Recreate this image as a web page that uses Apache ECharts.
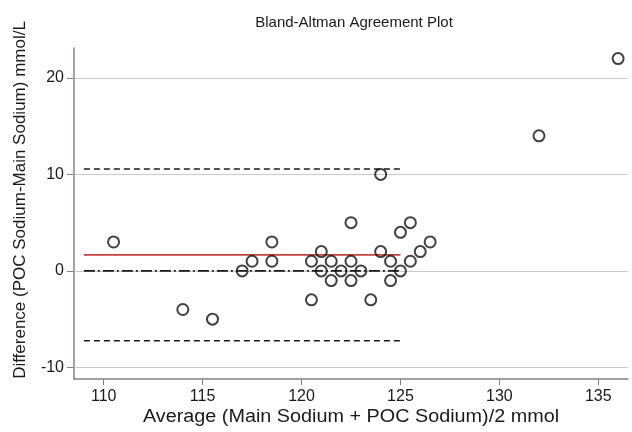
<!DOCTYPE html>
<html><head><meta charset="utf-8">
<script src="https://cdn.jsdelivr.net/npm/echarts@6/dist/echarts.min.js"></script>
<style>html,body{margin:0;padding:0;background:#fff}#c{width:632px;height:432px}</style>
</head><body><div id="c"></div>
<script>
// Data
const avgValues  = [110.5, 114, 115.5, 117, 117.5, 118.5, 118.5, 120.5, 120.5, 121, 121, 121.5, 121.5, 122, 122.5, 122.5, 122.5, 123, 123.5, 124, 124, 124.5, 124.5, 125, 125, 125.5, 125.5, 126, 126.5, 132, 136];
const diffValues = [3, -4, -5, 0, 1, 3, 1, 1, -3, 2, 0, 1, -1, 0, 5, 1, -1, 0, -3, 10, 2, 1, -1, 4, 0, 5, 1, 2, 3, 14, 22];
const xTicks = [110, 115, 120, 125, 130, 135];
const yTicks = [-10, 0, 10, 20];
const meanDiff = 1.66;
const upperLoA = 10.55;
const lowerLoA = -7.23;
const zeroRef = 0;
const refLineRange = [109, 125];

const FONT = "'Liberation Sans', Arial, sans-serif";
const points = avgValues.map((v, i) => [v, diffValues[i]]);
const seg = (y) => [[refLineRange[0], y], [refLineRange[1], y]];

const chart = echarts.init(document.getElementById('c'), null, {renderer: 'canvas'});
chart.setOption({
  animation: false,
  backgroundColor: '#ffffff',
  title: {
    text: 'Bland-Altman Agreement Plot',
    left: 349, top: 10, textAlign: 'center',
    textStyle: {fontFamily: FONT, fontSize: 15, fontWeight: 'normal', color: '#1a1a1a'}
  },
  graphic: [{
    type: 'text', x: 20, y: 200, rotation: Math.PI / 2,
    style: {text: 'Difference (POC Sodium-Main Sodium) mmol/L', fontFamily: FONT, fontSize: 17,
            fill: '#1a1a1a', textAlign: 'center', textVerticalAlign: 'middle'}
  }, {
    type: 'text', x: 351, y: 417, scaleX: 1.1,
    style: {text: 'Average (Main Sodium + POC Sodium)/2 mmol', fontFamily: FONT, fontSize: 18,
            fill: '#1a1a1a', textAlign: 'center', textVerticalAlign: 'middle'}
  }],
  grid: {left: 74, right: 4, top: 48, bottom: 53, containLabel: false},
  xAxis: {
    type: 'value', min: 108.5, max: 136.5,
    axisLine: {show: true, onZero: false, lineStyle: {color: '#8a7e7f', width: 1.5}},
    axisTick: {show: true, customValues: xTicks, length: 6, lineStyle: {color: '#8a7e7f', width: 1}},
    axisLabel: {customValues: xTicks, margin: 10, fontFamily: FONT, fontSize: 16, color: '#1a1a1a'},
    splitLine: {show: false}
  },
  yAxis: {
    type: 'value', min: -11.2, max: 23.1,
    axisLine: {show: true, onZero: false, lineStyle: {color: '#8a7e7f', width: 1.5}},
    axisTick: {show: true, customValues: yTicks, length: 7, lineStyle: {color: '#8a7e7f', width: 1}},
    axisLabel: {customValues: yTicks, margin: 10, fontFamily: FONT, fontSize: 16, color: '#1a1a1a'},
    splitLine: {show: false}
  },
  series: [
    {
      type: 'line', data: [], silent: true, z: 1,
      markLine: {
        silent: true, symbol: 'none', label: {show: false}, z: 1,
        lineStyle: {color: '#c8c8c8', width: 1, type: 'solid'},
        data: yTicks.map(v => ({yAxis: v}))
      }
    },
    {type: 'line', data: seg(upperLoA), showSymbol: false, silent: true, z: 2,
     lineStyle: {color: '#1a1a1a', width: 1.5, type: [6, 4]}},
    {type: 'line', data: seg(lowerLoA), showSymbol: false, silent: true, z: 2,
     lineStyle: {color: '#1a1a1a', width: 1.5, type: [6, 4]}},
    {type: 'line', data: seg(zeroRef), showSymbol: false, silent: true, z: 3,
     lineStyle: {color: '#1a1a1a', width: 1.6, type: [11, 3, 2, 3]}},
    {type: 'line', data: seg(meanDiff), showSymbol: false, silent: true, z: 3,
     lineStyle: {color: '#c4423c', width: 1.8, type: 'solid'}},
    {
      type: 'scatter', data: points, z: 6,
      symbol: 'circle', symbolSize: 11,
      itemStyle: {color: 'rgba(255,255,255,0)', borderColor: '#111', borderWidth: 2}
    }
  ]
});
</script></body></html>
